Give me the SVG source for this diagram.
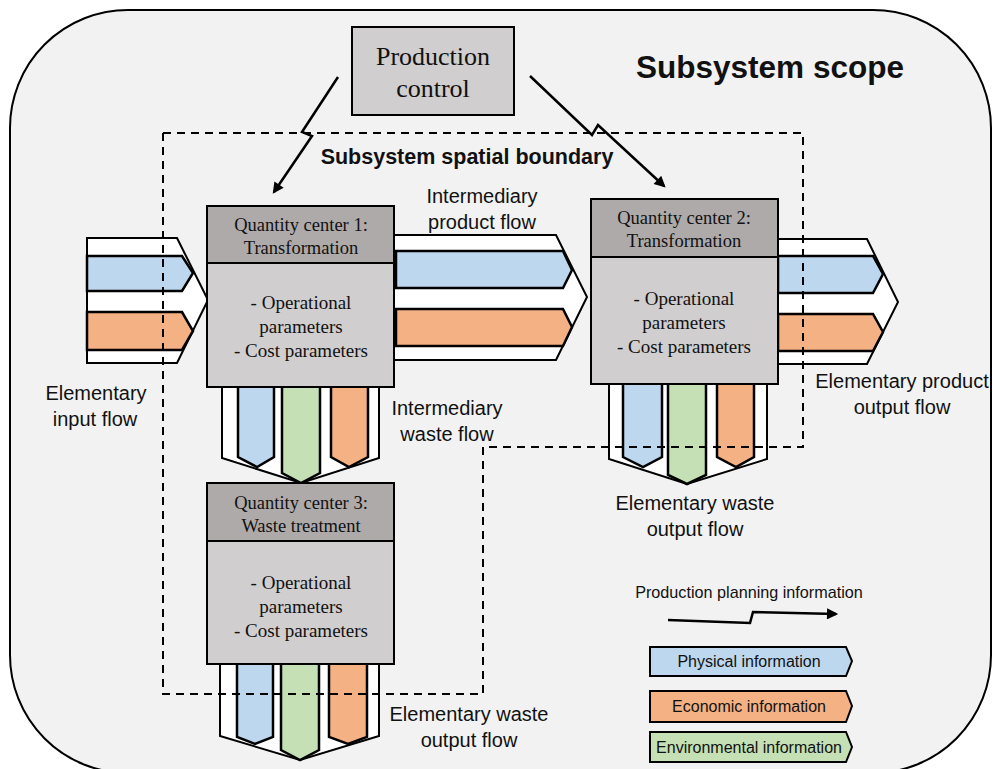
<svg xmlns="http://www.w3.org/2000/svg" width="993" height="769" viewBox="0 0 993 769">
<defs>
<style>
.bg{fill:#f2f2f2;stroke:#000;stroke-width:2}
.wh{fill:#fff;stroke:#000;stroke-width:2;stroke-linejoin:miter}
.bl{fill:#bdd7ee;stroke:#000;stroke-width:2.5}
.or{fill:#f4b183;stroke:#000;stroke-width:2.5}
.gr{fill:#c5e0b4;stroke:#000;stroke-width:2.5}
.hd{fill:#aeaaaa;stroke:#000;stroke-width:2}
.bd{fill:#d0cece;stroke:#000;stroke-width:2}
.dash{fill:none;stroke:#000;stroke-width:2;stroke-dasharray:8,6}
.ser{font-family:"Liberation Serif","Times New Roman",serif;fill:#111;text-anchor:middle}
.sans{font-family:"Liberation Sans",Arial,sans-serif;fill:#111;text-anchor:middle}
.arr{fill:none;stroke:#000;stroke-width:2.5;marker-end:url(#ah)}
</style>
<marker id="ah" viewBox="0 0 10 10" refX="8" refY="5" markerWidth="5" markerHeight="4.5" orient="auto" markerUnits="strokeWidth">
<path d="M0,0 L10,5 L0,10 z" fill="#000"/>
</marker>
</defs>
<rect class="bg" x="10" y="10" width="981" height="763" rx="118" ry="118"/>
<text class="sans" x="770" y="78" font-size="31.5" font-weight="bold">Subsystem scope</text>

<g id="input-flow">
<polygon class="wh" points="87,238 177,238 208,300 177,363 87,363"/>
<polygon class="bl" points="87,256 182,256 193,273 182,291 87,291"/>
<polygon class="or" points="87,312 182,312 193,331 182,350 87,350"/>
</g>
<g id="intermediary-product-flow">
<polygon class="wh" points="394,235 556,235 587,297 556,360 394,360"/>
<polygon class="bl" points="396,251 563,251 572,270 563,288 396,288"/>
<polygon class="or" points="396,309 563,309 572,327 563,346 396,346"/>
</g>
<g id="product-output-flow">
<polygon class="wh" points="778,239 867,239 898,302 867,364 778,364"/>
<polygon class="bl" points="778,256 873,256 883,274 873,293 778,293"/>
<polygon class="or" points="778,314 873,314 883,332 873,351 778,351"/>
</g>
<g id="waste-flow-1">
<polygon class="wh" points="222,385 379,385 379,458 301,483 222,458"/>
<polygon class="bl" points="238,385 274,385 274,457 257,467 238,457"/>
<polygon class="gr" points="282,385 320,385 320,473 301,483 282,473"/>
<polygon class="or" points="331,385 368,385 368,457 349,467 331,457"/>
</g>
<g id="waste-flow-2">
<polygon class="wh" points="609,382 767,382 767,459 687,484 609,459"/>
<polygon class="bl" points="623,382 662,382 662,457 643,467 623,457"/>
<polygon class="gr" points="668,382 706,382 706,475 687,484 668,475"/>
<polygon class="or" points="717,382 754,382 754,457 736,467 717,457"/>
</g>
<g id="waste-flow-3">
<polygon class="wh" points="220,662 379,662 379,736 300,760 220,736"/>
<polygon class="bl" points="237,662 273,662 273,737 255,744 237,737"/>
<polygon class="gr" points="281,662 319,662 319,750 300,760 281,750"/>
<polygon class="or" points="329,662 367,662 367,737 348,744 329,737"/>
</g>

<g id="spatial-boundary">
<polyline class="dash" points="163,133 803,133 803,447 483,447 483,694 163,694 163,133"/>
<text class="sans" x="467" y="164" font-size="21.5" font-weight="bold">Subsystem spatial boundary</text>
</g>

<g id="production-control">
<rect class="bd" x="352" y="27" width="162" height="88"/>
<text class="ser" x="433" y="65" font-size="26">Production</text>
<text class="ser" x="433" y="97" font-size="26">control</text>
</g>

<g id="qc1">
<rect class="hd" x="207" y="206" width="187" height="57"/>
<rect class="bd" x="207" y="263" width="187" height="124"/>
<text class="ser" x="301" y="231" font-size="18.5">Quantity center 1:</text>
<text class="ser" x="301" y="254" font-size="18.5">Transformation</text>
<text class="ser" x="301" y="309" font-size="19">- Operational</text>
<text class="ser" x="301" y="333" font-size="19">parameters</text>
<text class="ser" x="301" y="357" font-size="19">- Cost parameters</text>
</g>

<g id="qc2">
<rect class="hd" x="591" y="199" width="187" height="58"/>
<rect class="bd" x="591" y="257" width="187" height="127"/>
<text class="ser" x="684" y="224" font-size="18.5">Quantity center 2:</text>
<text class="ser" x="684" y="247" font-size="18.5">Transformation</text>
<text class="ser" x="684" y="305" font-size="19">- Operational</text>
<text class="ser" x="684" y="329" font-size="19">parameters</text>
<text class="ser" x="684" y="353" font-size="19">- Cost parameters</text>
</g>

<g id="qc3">
<rect class="hd" x="207" y="483" width="187" height="58"/>
<rect class="bd" x="207" y="541" width="187" height="123"/>
<text class="ser" x="301" y="509" font-size="18.5">Quantity center 3:</text>
<text class="ser" x="301" y="532" font-size="18.5">Waste treatment</text>
<text class="ser" x="301" y="589" font-size="19">- Operational</text>
<text class="ser" x="301" y="613" font-size="19">parameters</text>
<text class="ser" x="301" y="637" font-size="19">- Cost parameters</text>
</g>

<g id="flow-labels">
<text class="sans" x="96" y="400" font-size="20">Elementary</text>
<text class="sans" x="95" y="426" font-size="20">input flow</text>
<text class="sans" x="482" y="203" font-size="20">Intermediary</text>
<text class="sans" x="482" y="229" font-size="20">product flow</text>
<text class="sans" x="447" y="415" font-size="20">Intermediary</text>
<text class="sans" x="447" y="441" font-size="20">waste flow</text>
<text class="sans" x="902" y="388" font-size="20">Elementary product</text>
<text class="sans" x="902" y="414" font-size="20">output flow</text>
<text class="sans" x="695" y="510" font-size="20">Elementary waste</text>
<text class="sans" x="695" y="536" font-size="20">output flow</text>
<text class="sans" x="469" y="721" font-size="20">Elementary waste</text>
<text class="sans" x="469" y="747" font-size="20">output flow</text>
</g>

<g id="connectors">
<polyline class="arr" points="338,77 302,132 312,136 274,192"/>
<polyline class="arr" points="530,76 592,135 598,125 664,186"/>
</g>

<g id="legend">
<text class="sans" x="749" y="598" font-size="16.2">Production planning information</text>
<polyline class="arr" points="668,620 750,623 753,612 836,614"/>
<polygon class="bl" points="650,647 846,647 852,661 846,676 650,676" style="stroke-width:2"/>
<text class="sans" x="749" y="667" font-size="16">Physical information</text>
<polygon class="or" points="650,691 846,691 852,706 846,722 650,722" style="stroke-width:2"/>
<text class="sans" x="749" y="712" font-size="16">Economic information</text>
<polygon class="gr" points="650,732 846,732 852,747 846,762 650,762" style="stroke-width:2"/>
<text class="sans" x="749" y="753" font-size="16">Environmental information</text>
</g>
</svg>
